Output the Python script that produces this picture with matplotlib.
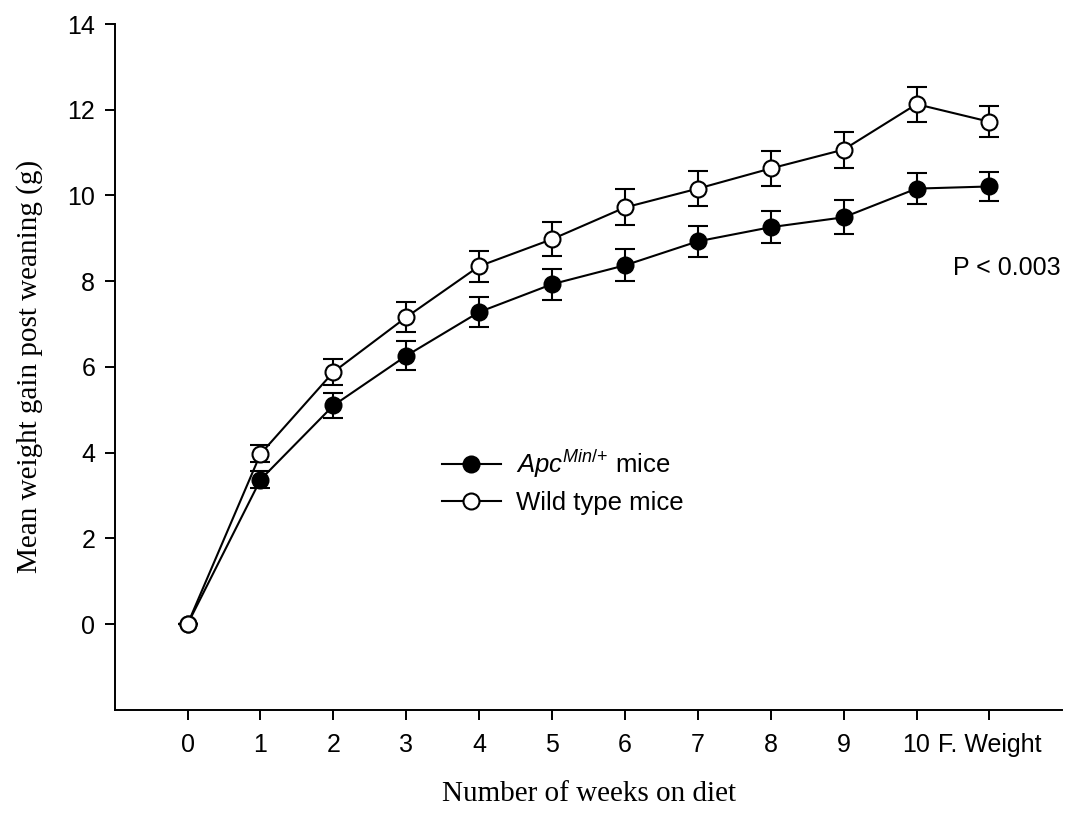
import matplotlib
matplotlib.use('Agg')
import matplotlib.pyplot as plt

plt.rcParams['font.family'] = ['Liberation Sans', 'DejaVu Sans']
plt.rcParams['mathtext.fontset'] = 'custom'
plt.rcParams['mathtext.rm'] = 'Liberation Sans'
plt.rcParams['mathtext.it'] = 'Liberation Sans:italic'

# weeks on diet (last point is final weight)
weeks = [0, 1, 2, 3, 4, 5, 6, 7, 8, 9, 10, 11]
tick_labels = ['0', '1', '2', '3', '4', '5', '6', '7', '8', '9', '10', 'F. Weight']

# Apc Min/+ mice
apc_mean = [0.0, 3.37, 5.10, 6.26, 7.28, 7.93, 8.37, 8.93, 9.26, 9.49, 10.16, 10.21]
apc_err = [0.0, 0.2, 0.3, 0.34, 0.35, 0.36, 0.37, 0.36, 0.37, 0.4, 0.37, 0.34]

# wild type mice
wt_mean = [0.0, 3.97, 5.88, 7.16, 8.35, 8.98, 9.72, 10.16, 10.63, 11.07, 12.13, 11.72]
wt_err = [0.0, 0.2, 0.3, 0.35, 0.36, 0.4, 0.42, 0.4, 0.4, 0.42, 0.41, 0.36]

fig = plt.figure(figsize=(10.72, 8.14), dpi=100)
ax = fig.add_axes([0.107, 0.128, 0.884, 0.8425])

common = dict(color='black', lw=1.5, capsize=7.5, capthick=1.5, elinewidth=1.5,
              markersize=11.5, markeredgewidth=1.5, markeredgecolor='black')
ax.errorbar(weeks, apc_mean, yerr=apc_err, fmt='-o', markerfacecolor='black',
            label=r'$Apc^{Min/{+}}$ mice', zorder=3, **common)
ax.errorbar(weeks, wt_mean, yerr=wt_err, fmt='-o', markerfacecolor='white',
            label='Wild type mice', zorder=4, **common)

ax.set_xlim(-1, 12)
ax.set_ylim(-2, 14)
ax.set_xticks(weeks)
ax.set_xticklabels(tick_labels)
ax.set_yticks(range(0, 15, 2))
ax.tick_params(direction='out', length=7, width=1.4, labelsize=18)
ax.tick_params(axis='x', pad=10)
ax.tick_params(axis='y', pad=7)

for side in ['top', 'right']:
    ax.spines[side].set_visible(False)
for side in ['left', 'bottom']:
    ax.spines[side].set_linewidth(1.4)

ax.set_xlabel('Number of weeks on diet', fontfamily='Liberation Serif', fontsize=21)
ax.set_ylabel('Mean weight gain post weaning (g)', fontfamily='Liberation Serif',
              fontsize=21)
ax.xaxis.set_label_coords(0.5, -0.1035)
ax.yaxis.set_label_coords(-0.076, 0.5)

ax.text(11.97, 8.3, 'P < 0.003', ha='right', va='center', fontsize=18)

handles, labels = ax.get_legend_handles_labels()
handles = [h[0] for h in handles]
ax.legend(handles, labels, loc='upper left', bbox_to_anchor=(0.412, 0.45),
          bbox_transform=fig.transFigure, frameon=False, fontsize=18.5,
          handlelength=2.3, handletextpad=0.6, labelspacing=0.42,
          borderpad=0, borderaxespad=0)

fig.savefig('out.png', dpi=100)
